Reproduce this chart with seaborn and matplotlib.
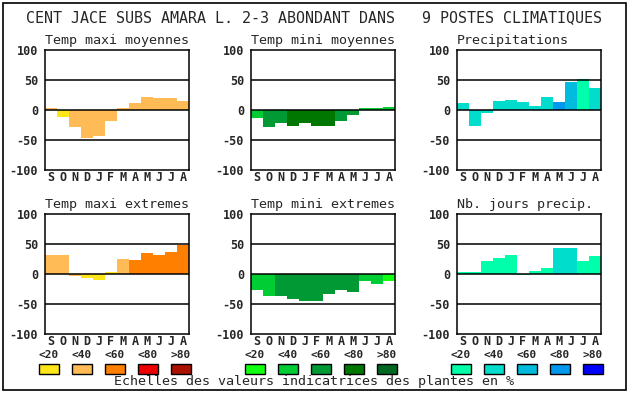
import matplotlib
matplotlib.use("Agg")
import matplotlib.pyplot as plt
from matplotlib.patches import Rectangle
import seaborn as sns
import pandas as pd

# month labels (Sept -> Aug)
months = ["S", "O", "N", "D", "J", "F", "M", "A", "M", "J", "J", "A"]

# values (%)
temp_maxi_moy = [3, -11, -28, -46, -43, -18, 3, 12, 22, 20, 20, 15]
temp_mini_moy = [-13, -28, -21, -26, -21, -26, -26, -18, -8, 3, 3, 5]
precipitations = [12, -27, -5, 15, 17, 13, 7, 22, 13, 47, 52, 37]
temp_maxi_ext = [32, 32, -4, -7, -10, 4, 25, 24, 35, 32, 37, 48]
temp_mini_ext = [-27, -37, -37, -42, -45, -45, -34, -27, -30, -12, -17, -12]
nb_jours_precip = [4, 4, 21, 27, 32, -2, 5, 10, 43, 43, 21, 30]

# class (0..4 -> <20 .. >80) of each bar, gives its colour
cls_maxi_moy = [1, 0, 1, 1, 1, 1, 1, 1, 1, 1, 1, 1]
cls_mini_moy = [1, 2, 2, 3, 3, 3, 3, 2, 2, 1, 1, 1]
cls_precip = [1, 1, 1, 1, 1, 1, 1, 1, 3, 2, 0, 1]
cls_maxi_ext = [1, 1, 1, 0, 0, 0, 1, 2, 2, 2, 2, 2]
cls_mini_ext = [1, 1, 2, 2, 2, 2, 2, 2, 2, 1, 1, 0]
cls_jours = [0, 0, 0, 0, 0, 0, 0, 0, 1, 1, 0, 0]

scale_labels = ["<20", "<40", "<60", "<80", ">80"]
oranges = ["#FFE619", "#FFBB55", "#FF8000", "#EE0000", "#AA1100"]
greens = ["#11FF11", "#00CC33", "#009933", "#007700", "#006622"]
blues = ["#00FFAA", "#00DDCC", "#00BBDD", "#0099EE", "#0000FF"]

W, H = 630, 394


def fx(x):
    return x / W


def fy(y):
    return 1 - y / H


panels = [
    ("Temp maxi moyennes", temp_maxi_moy, cls_maxi_moy, oranges, 45, 50),
    ("Temp mini moyennes", temp_mini_moy, cls_mini_moy, greens, 251, 50),
    ("Precipitations", precipitations, cls_precip, blues, 457, 50),
    ("Temp maxi extremes", temp_maxi_ext, cls_maxi_ext, oranges, 45, 214),
    ("Temp mini extremes", temp_mini_ext, cls_mini_ext, greens, 251, 214),
    ("Nb. jours precip.", nb_jours_precip, cls_jours, blues, 457, 214),
]

sns.set_theme(style="white")
plt.rcParams["font.family"] = ["DejaVu Sans Mono"]

fig = plt.figure(figsize=(W / 100, H / 100), dpi=100)

for title, vals, cls, pal, left, top in panels:
    ax = fig.add_axes([fx(left), fy(top + 120), 144 / W, 120 / H])
    df = pd.DataFrame({"pos": range(12), "val": vals,
                       "col": [pal[c] for c in cls]})
    sns.barplot(data=df, x="pos", y="val", hue="pos",
                palette=dict(zip(df["pos"], df["col"])), dodge=False,
                width=1.0, linewidth=0, saturation=1, legend=False, ax=ax)
    for yv in (-50, 0, 50):
        ax.axhline(yv, color="black", lw=1.1, zorder=5)
    ax.set_xlim(-0.5, 11.5)
    ax.set_ylim(-100, 100)
    ax.set_yticks([-100, -50, 0, 50, 100])
    ax.set_yticklabels(["-100", "-50", "0", "50", "100"],
                       fontsize=8.5, fontweight="bold")
    ax.set_xticks(range(12))
    ax.set_xticklabels(months, fontsize=8.5, fontweight="bold")
    ax.tick_params(axis="y", length=0, pad=5)
    ax.tick_params(axis="x", length=0, pad=0.8)
    ax.set_xlabel("")
    ax.set_ylabel("")
    for sp in ax.spines.values():
        sp.set_color("black")
        sp.set_linewidth(1.1)
    ax.text(0, 1.025, title, transform=ax.transAxes, ha="left", va="bottom",
            fontsize=9.6)

# main title
fig.text(fx(314), fy(18), "CENT JACE SUBS AMARA L. 2-3 ABONDANT DANS   9 POSTES CLIMATIQUES",
         ha="center", va="center", fontsize=10.8)

# colour scales
for pal, x0 in ((oranges, 39), (greens, 245), (blues, 451)):
    for i, (lab, c) in enumerate(zip(scale_labels, pal)):
        bx = x0 + i * 33
        fig.text(fx(bx + 10), fy(354.5), lab, ha="center", va="center",
                 fontsize=8, fontweight="bold")
        fig.add_artist(Rectangle((fx(bx), fy(374)), 20 / W, 10 / H,
                                 facecolor=c, edgecolor="black", lw=1,
                                 transform=fig.transFigure))

fig.text(fx(314), fy(382), "Echelles des valeurs indicatrices des plantes en %",
         ha="center", va="center", fontsize=9.6)

# outer frame
fig.add_artist(Rectangle((fx(3), fy(390)), 623 / W, 387 / H, fill=False,
                         edgecolor="black", lw=1.2, transform=fig.transFigure))

fig.savefig("out.png", dpi=100)
